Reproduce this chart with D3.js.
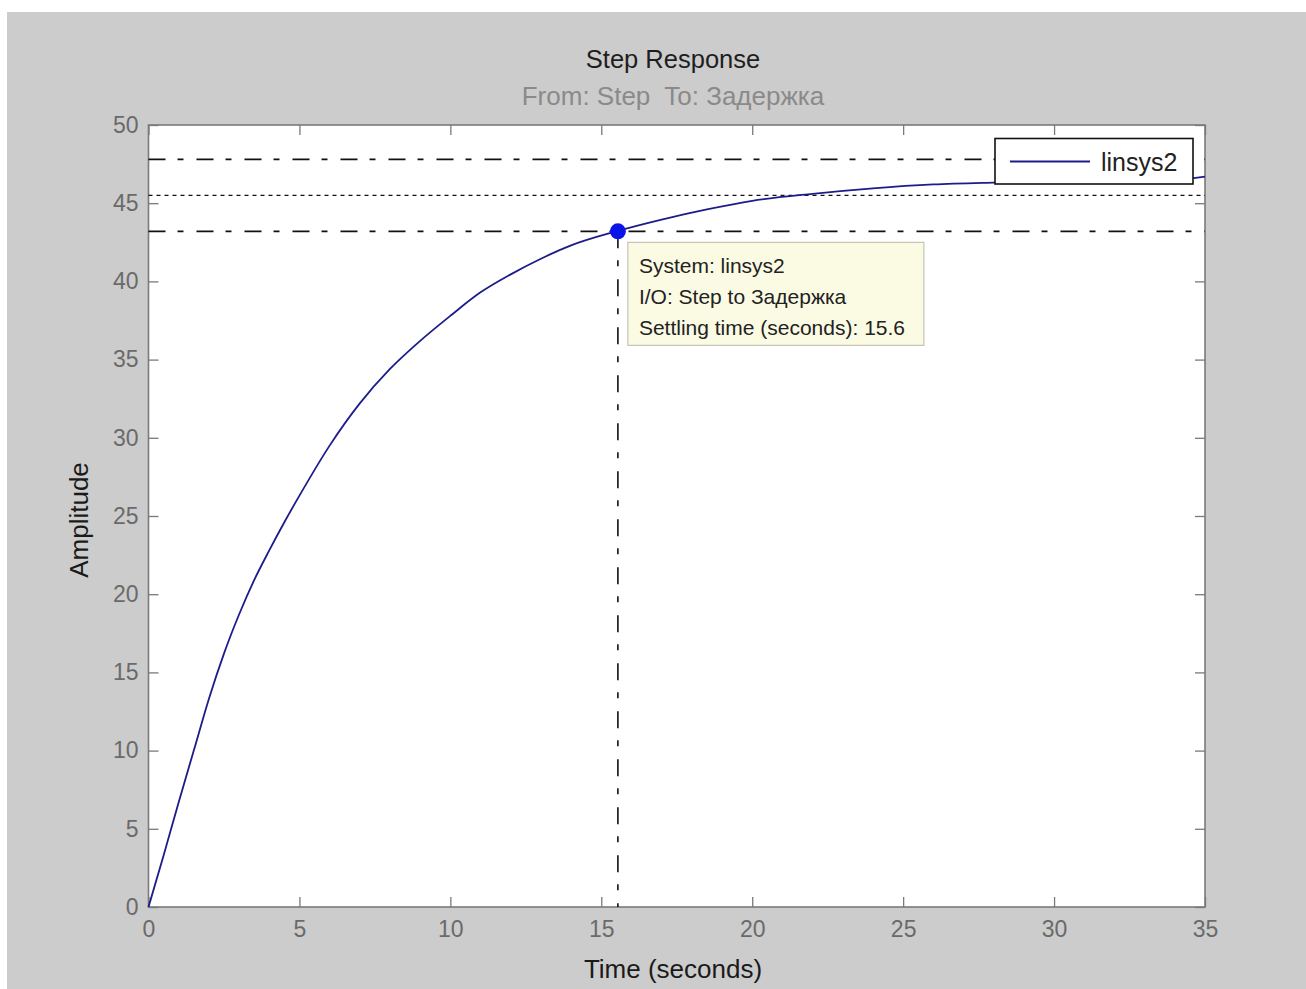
<!DOCTYPE html>
<html>
<head>
<meta charset="utf-8">
<script src="https://cdn.jsdelivr.net/npm/d3@7"></script>
<style>
  html, body { margin: 0; padding: 0; background: #ffffff; }
  svg { display: block; font-family: "Liberation Sans", Arial, sans-serif; }
</style>
</head>
<body>
<svg id="chart" width="1306" height="989"></svg>
<script>
// ---- data ----
const timeS = [0, 0.5, 1.0, 1.5, 2.0, 2.5, 3.0, 3.5, 4.0, 4.5, 5.0, 6.0, 7.0, 8.0, 9.0, 10.0, 11.0, 12.0, 13.0, 14.0, 15.5, 17.0, 18.5, 20.0, 22.0, 24.0, 26.0, 28.0, 30.0, 32.0, 34.0, 35.0];
const amplitude = [0, 3.3, 6.7, 10.0, 13.3, 16.2, 18.7, 20.9, 22.8, 24.6, 26.3, 29.5, 32.2, 34.4, 36.2, 37.8, 39.3, 40.45, 41.45, 42.3, 43.2, 43.95, 44.6, 45.15, 45.6, 45.95, 46.2, 46.32, 46.4, 46.45, 46.5, 46.7];
const xTicks = [0, 5, 10, 15, 20, 25, 30, 35];
const yTicks = [0, 5, 10, 15, 20, 25, 30, 35, 40, 45, 50];
const finalValue = 45.5;
const settlingBand = [43.2, 47.8];
const settlingTime = 15.55;
const settlingAmp = 43.2;
const seriesName = "linsys2";
const titleText = "Step Response";
const subtitleText = "From: Step  To: Задержка";
const xLabel = "Time (seconds)";
const yLabel = "Amplitude";
const tipLines = ["System: " + seriesName, "I/O: Step to Задержка", "Settling time (seconds): " + settlingTime.toFixed(1)];

// ---- layout ----
const svg = d3.select("#chart");
const L = 148.5, R = 1205, T = 125, B = 907;
const x = d3.scaleLinear().domain([0, 35]).range([L, R]);
const y = d3.scaleLinear().domain([0, 50]).range([B, T]);

const axisColor = "#7a7a7a", labelGray = "#6a6a6a", lineColor = "#1c1c8a";

// figure background
svg.append("rect").attr("x", 7).attr("y", 12).attr("width", 1306 - 7).attr("height", 989 - 12).attr("fill", "#cccccc");
// plot area
svg.append("rect").attr("x", L).attr("y", T).attr("width", R - L).attr("height", B - T).attr("fill", "#ffffff");

// axes (ticks inward on all sides)
const tickLen = 10;
const gx = svg.append("g").attr("transform", `translate(0,${B})`)
  .call(d3.axisBottom(x).tickValues(xTicks).tickSize(-tickLen).tickPadding(14).tickFormat(d3.format("d")));
const gxt = svg.append("g").attr("transform", `translate(0,${T})`)
  .call(d3.axisTop(x).tickValues(xTicks).tickSize(-tickLen).tickFormat(""));
const gy = svg.append("g").attr("transform", `translate(${L},0)`)
  .call(d3.axisLeft(y).tickValues(yTicks).tickSize(-tickLen).tickPadding(10).tickFormat(d3.format("d")));
const gyr = svg.append("g").attr("transform", `translate(${R},0)`)
  .call(d3.axisRight(y).tickValues(yTicks).tickSize(-tickLen).tickFormat(""));
[gx, gxt, gy, gyr].forEach(g => {
  g.select(".domain").remove();
  g.selectAll(".tick line").attr("stroke", axisColor).attr("stroke-width", 1.3);
  g.selectAll(".tick text").attr("fill", labelGray).attr("font-size", 23).attr("font-family", "Liberation Sans, Arial, sans-serif");
});
gx.selectAll(".tick text").attr("dy", "0.71em");

// box
svg.append("rect").attr("x", L).attr("y", T).attr("width", R - L).attr("height", B - T)
  .attr("fill", "none").attr("stroke", axisColor).attr("stroke-width", 1.6);

// settling band lines
const dashDot = "17,12,6,13";
settlingBand.forEach(v => {
  svg.append("line").attr("x1", x(0)).attr("x2", x(35)).attr("y1", y(v)).attr("y2", y(v))
    .attr("stroke", "#111").attr("stroke-width", 1.6).attr("stroke-dasharray", dashDot);
});
svg.append("line").attr("x1", x(0)).attr("x2", x(35)).attr("y1", y(finalValue)).attr("y2", y(finalValue))
  .attr("stroke", "#111").attr("stroke-width", 1.4).attr("stroke-dasharray", "4,4");

// vertical settling-time marker
svg.append("line").attr("x1", x(settlingTime)).attr("x2", x(settlingTime))
  .attr("y1", y(settlingAmp)).attr("y2", y(0))
  .attr("stroke", "#111").attr("stroke-width", 1.6).attr("stroke-dasharray", dashDot);

// response curve
const pts = timeS.map((t, i) => [t, amplitude[i]]);
svg.append("path").datum(pts)
  .attr("d", d3.line().x(d => x(d[0])).y(d => y(d[1])).curve(d3.curveMonotoneX))
  .attr("fill", "none").attr("stroke", lineColor).attr("stroke-width", 1.8);

// marker dot
svg.append("circle").attr("cx", x(settlingTime)).attr("cy", y(settlingAmp)).attr("r", 8).attr("fill", "#0a14e6");

// data tip
const tipX = x(settlingTime) + 10, tipY = y(settlingAmp) + 11;
svg.append("rect").attr("x", tipX).attr("y", tipY).attr("width", 296).attr("height", 103)
  .attr("fill", "#fbfbe4").attr("stroke", "#c4c4b4").attr("stroke-width", 1.2);
svg.append("g").selectAll("text").data(tipLines).join("text")
  .attr("x", tipX + 11).attr("y", (d, i) => tipY + 31 + i * 31)
  .attr("font-size", 21).attr("fill", "#222")
  .text(d => d);

// legend
const lg = svg.append("g");
lg.append("rect").attr("x", 995).attr("y", 138.5).attr("width", 198).attr("height", 45.5)
  .attr("fill", "#ffffff").attr("stroke", "#111").attr("stroke-width", 1.6);
lg.append("line").attr("x1", 1010).attr("x2", 1090).attr("y1", 161.5).attr("y2", 161.5)
  .attr("stroke", lineColor).attr("stroke-width", 1.8);
lg.append("text").attr("x", 1101).attr("y", 171).attr("font-size", 25).attr("fill", "#222").text(seriesName);

// titles
svg.append("text").attr("x", 673).attr("y", 68).attr("text-anchor", "middle")
  .attr("font-size", 25.5).attr("fill", "#1e1e1e").text(titleText);
svg.append("text").attr("x", 673).attr("y", 105).attr("text-anchor", "middle")
  .attr("font-size", 26).attr("fill", "#8a8a8a").style("white-space", "pre").text(subtitleText);
svg.append("text").attr("x", 673).attr("y", 978).attr("text-anchor", "middle")
  .attr("font-size", 26).attr("fill", "#1a1a1a").text(xLabel);
svg.append("text").attr("transform", `translate(88,${(T + B) / 2 + 4}) rotate(-90)`).attr("text-anchor", "middle")
  .attr("font-size", 26).attr("fill", "#1a1a1a").text(yLabel);
</script>
</body>
</html>
